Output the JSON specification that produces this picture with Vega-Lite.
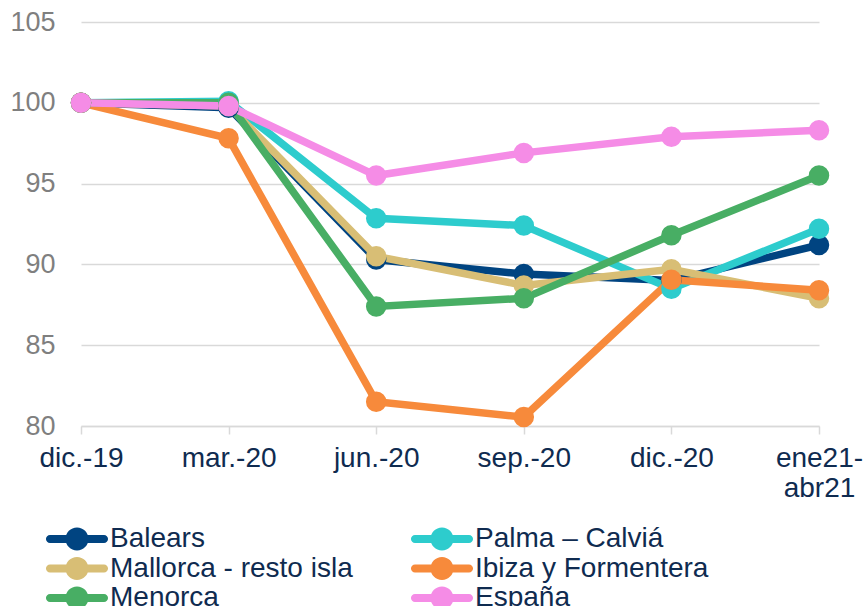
{
  "$schema": "https://vega.github.io/schema/vega-lite/v6.json",
  "width": 738,
  "height": 404,
  "autosize": {"type": "none"},
  "padding": {"left": 81, "top": 22, "right": 48, "bottom": 180},
  "background": "white",
  "config": {
    "view": {"stroke": null},
    "font": "Liberation Sans"
  },
  "data": {
    "values": [
      {"serie": "Balears", "periodo": "dic.-19", "valor": 100},
      {"serie": "Balears", "periodo": "mar.-20", "valor": 99.7},
      {"serie": "Balears", "periodo": "jun.-20", "valor": 90.3},
      {"serie": "Balears", "periodo": "sep.-20", "valor": 89.4},
      {"serie": "Balears", "periodo": "dic.-20", "valor": 89.0},
      {"serie": "Balears", "periodo": "ene21-abr21", "valor": 91.2},
      {"serie": "Palma – Calviá", "periodo": "dic.-19", "valor": 100},
      {"serie": "Palma – Calviá", "periodo": "mar.-20", "valor": 100.1},
      {"serie": "Palma – Calviá", "periodo": "jun.-20", "valor": 92.85},
      {"serie": "Palma – Calviá", "periodo": "sep.-20", "valor": 92.4},
      {"serie": "Palma – Calviá", "periodo": "dic.-20", "valor": 88.5},
      {"serie": "Palma – Calviá", "periodo": "ene21-abr21", "valor": 92.2},
      {"serie": "Mallorca - resto isla", "periodo": "dic.-19", "valor": 100},
      {"serie": "Mallorca - resto isla", "periodo": "mar.-20", "valor": 99.8},
      {"serie": "Mallorca - resto isla", "periodo": "jun.-20", "valor": 90.5},
      {"serie": "Mallorca - resto isla", "periodo": "sep.-20", "valor": 88.7},
      {"serie": "Mallorca - resto isla", "periodo": "dic.-20", "valor": 89.7},
      {"serie": "Mallorca - resto isla", "periodo": "ene21-abr21", "valor": 87.9},
      {"serie": "Ibiza y Formentera", "periodo": "dic.-19", "valor": 100},
      {"serie": "Ibiza y Formentera", "periodo": "mar.-20", "valor": 97.8},
      {"serie": "Ibiza y Formentera", "periodo": "jun.-20", "valor": 81.5},
      {"serie": "Ibiza y Formentera", "periodo": "sep.-20", "valor": 80.55},
      {"serie": "Ibiza y Formentera", "periodo": "dic.-20", "valor": 89.05},
      {"serie": "Ibiza y Formentera", "periodo": "ene21-abr21", "valor": 88.4},
      {"serie": "Menorca", "periodo": "dic.-19", "valor": 100},
      {"serie": "Menorca", "periodo": "mar.-20", "valor": 100.0},
      {"serie": "Menorca", "periodo": "jun.-20", "valor": 87.4},
      {"serie": "Menorca", "periodo": "sep.-20", "valor": 87.9},
      {"serie": "Menorca", "periodo": "dic.-20", "valor": 91.8},
      {"serie": "Menorca", "periodo": "ene21-abr21", "valor": 95.5},
      {"serie": "España", "periodo": "dic.-19", "valor": 100},
      {"serie": "España", "periodo": "mar.-20", "valor": 99.8},
      {"serie": "España", "periodo": "jun.-20", "valor": 95.5},
      {"serie": "España", "periodo": "sep.-20", "valor": 96.9},
      {"serie": "España", "periodo": "dic.-20", "valor": 97.9},
      {"serie": "España", "periodo": "ene21-abr21", "valor": 98.3}
    ]
  },
  "encoding": {
    "x": {
      "field": "periodo",
      "type": "ordinal",
      "sort": ["dic.-19", "mar.-20", "jun.-20", "sep.-20", "dic.-20", "ene21-abr21"],
      "scale": {"type": "point", "padding": 0},
      "axis": {
        "title": null,
        "labelAngle": 0,
        "labelFontSize": 28,
        "labelColor": "#0F2B50",
        "labelPadding": 10,
        "labelLineHeight": 30,
        "labelExpr": "datum.value == 'ene21-abr21' ? ['ene21-', 'abr21'] : datum.value",
        "domainColor": "#D9D9D9",
        "domainWidth": 1.5,
        "tickColor": "#D9D9D9",
        "tickWidth": 1.5,
        "tickSize": 8,
        "grid": false
      }
    },
    "y": {
      "field": "valor",
      "type": "quantitative",
      "scale": {"domain": [80, 105], "nice": false, "zero": false},
      "axis": {
        "title": null,
        "values": [80, 85, 90, 95, 100, 105],
        "labelFontSize": 27,
        "labelColor": "#7F7F7F",
        "labelPadding": 26,
        "domain": false,
        "ticks": false,
        "grid": true,
        "gridColor": "#D9D9D9",
        "gridWidth": 1.5
      }
    },
    "color": {
      "field": "serie",
      "type": "nominal",
      "sort": ["Balears", "Palma – Calviá", "Mallorca - resto isla", "Ibiza y Formentera", "Menorca", "España"],
      "scale": {
        "domain": ["Balears", "Palma – Calviá", "Mallorca - resto isla", "Ibiza y Formentera", "Menorca", "España"],
        "range": ["#004481", "#2DCCCD", "#D8BE75", "#F78A3B", "#48AE64", "#F58CE6"]
      },
      "legend": {
        "title": null,
        "orient": "none",
        "legendX": -19,
        "legendY": 502,
        "direction": "horizontal",
        "columns": 2,
        "columnPadding": 57,
        "rowPadding": 0.5,
        "symbolType": "M-1.8,-0.269H1.8A0.269,0.269 0 0,1 1.8,0.269H-1.8A0.269,0.269 0 0,1 -1.8,-0.269Z M0.765,0A0.765,0.765 0 1,1 -0.765,0A0.765,0.765 0 1,1 0.765,0Z",
        "symbolSize": 900,
        "symbolStrokeWidth": 0,
        "symbolOpacity": 1,
        "labelFontSize": 28,
        "labelColor": "#0F2B50",
        "labelOffset": 18,
        "labelLimit": 400,
        "encode": {
          "symbols": {
            "update": {
              "fill": {"scale": "color", "field": "value"},
              "strokeWidth": {"value": 0},
              "opacity": {"value": 1}
            }
          }
        }
      }
    }
  },
  "layer": [
    {
      "mark": {"type": "line", "strokeWidth": 7.5},
      "encoding": {
        "detail": {"field": "serie"}
      }
    },
    {
      "mark": {"type": "point", "filled": true, "opacity": 1, "size": 420, "shape": "circle"}
    }
  ]
}
